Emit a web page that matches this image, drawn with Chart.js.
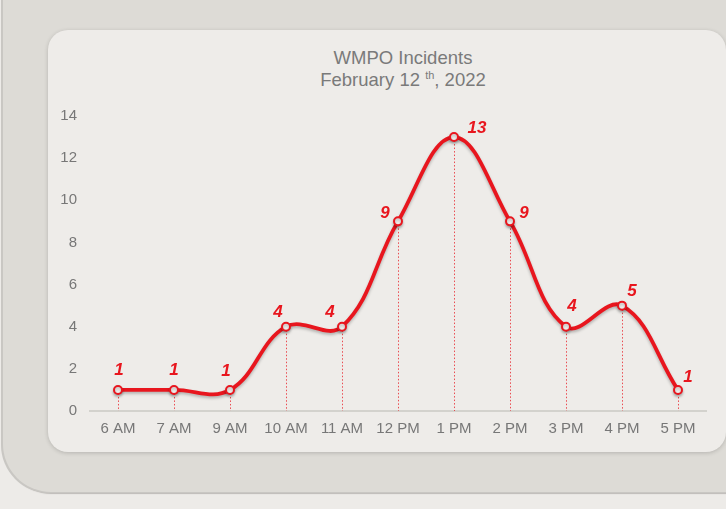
<!DOCTYPE html>
<html>
<head>
<meta charset="utf-8">
<script src="https://cdn.jsdelivr.net/npm/chart.js@4.4.0/dist/chart.umd.min.js"></script>
<style>
    html, body { margin: 0; padding: 0; width: 726px; height: 509px; overflow: hidden; background: #edebe8; font-family: "Liberation Sans", Arial, sans-serif; }
    .panel { position: absolute; left: 3px; top: -60px; width: 800px; height: 552px; background: #dddbd6; border-radius: 0 0 0 48px; box-shadow: -2px 1px 0 #c9c7c3, 0 2px 1px #bdbbb7; }
    .card { position: absolute; left: 48px; top: 30px; width: 678px; height: 422px; background: #eeece9; border-radius: 20px; box-shadow: 0 1px 4px rgba(0,0,0,0.18); }
    .title { position: absolute; left: 48px; top: 47px; width: 710px; text-align: center; color: #7a7a7a; font-size: 18.5px; line-height: 22px; }
    .title sup { font-size: 11px; vertical-align: 7px; line-height: 0; }
    canvas { position: absolute; left: 0; top: 0; }
</style>
</head>
<body>
<div class="panel"></div>
<div class="card"></div>
<div class="title">WMPO Incidents<br>February 12 <sup>th</sup>, 2022</div>
<canvas id="incidentsChart" width="726" height="509"></canvas>
<script>
// Données
const heures = ['6 AM', '7 AM', '9 AM', '10 AM', '11 AM', '12 PM', '1 PM', '2 PM', '3 PM', '4 PM', '5 PM'];
const incidents = [1, 1, 1, 4, 4, 9, 13, 9, 4, 5, 1];
const yTicks = [0, 2, 4, 6, 8, 10, 12, 14];

// Décalage des étiquettes (style)
const labelOffsets = [[1, -20], [0, -20], [-4, -19], [-8, -14], [-12, -14], [-13, -8], [23, -9], [14, -8], [6, -20], [10, -14], [10, -13]];

const rouge = '#e8161e';

// Lignes pointillées verticales + étiquettes
const dropLinesPlugin = {
    id: 'dropLines',
    beforeDatasetsDraw(chart) {
        const ctx = chart.ctx;
        const meta = chart.getDatasetMeta(0);
        const base = chart.scales.y.getPixelForValue(0);
        ctx.save();
        ctx.strokeStyle = 'rgba(232, 22, 30, 0.75)';
        ctx.lineWidth = 1;
        ctx.setLineDash([1.5, 2]);
        meta.data.forEach(pt => {
            ctx.beginPath();
            ctx.moveTo(Math.round(pt.x) + 0.5, pt.y);
            ctx.lineTo(Math.round(pt.x) + 0.5, base);
            ctx.stroke();
        });
        ctx.restore();
    },
    beforeDatasetDraw(chart) {
        const ctx = chart.ctx;
        ctx.save();
        ctx.shadowColor = 'rgba(0,0,0,0.25)';
        ctx.shadowBlur = 3;
        ctx.shadowOffsetY = 2;
    },
    afterDatasetDraw(chart) {
        chart.ctx.restore();
    },
    afterDatasetsDraw(chart) {
        const ctx = chart.ctx;
        const meta = chart.getDatasetMeta(0);
        ctx.save();
        ctx.fillStyle = rouge;
        ctx.font = 'italic bold 17px "Liberation Sans", Arial, sans-serif';
        ctx.textAlign = 'center';
        ctx.textBaseline = 'middle';
        meta.data.forEach((pt, i) => {
            const off = labelOffsets[i];
            ctx.fillText(String(incidents[i]), pt.x + off[0], pt.y + off[1]);
        });
        ctx.restore();
    }
};

const chart = new Chart(document.getElementById('incidentsChart').getContext('2d'), {
    type: 'line',
    data: {
        labels: heures,
        datasets: [{
            data: incidents,
            borderColor: rouge,
            borderWidth: 3.8,
            tension: 0.4,
            pointRadius: 4,
            pointBorderWidth: 2,
            pointBackgroundColor: '#f4f2f0',
            pointBorderColor: rouge,
            fill: false
        }]
    },
    options: {
        responsive: false,
        animation: false,
        layout: { padding: { top: 116, right: 20, bottom: 58, left: 0 } },
        plugins: { legend: { display: false }, tooltip: { enabled: false } },
        scales: {
            x: {
                offset: true,
                grid: { display: false, drawTicks: false },
                border: { display: true, color: '#d3d2cd', width: 2 },
                ticks: { color: '#777777', font: { size: 15, family: '"Liberation Sans", Arial, sans-serif' }, padding: 9 },
                afterFit(scale) { scale.height = 40; }
            },
            y: {
                min: 0,
                max: 14,
                afterBuildTicks(scale) { scale.ticks = yTicks.map(v => ({ value: v })); },
                grid: { display: false, drawTicks: false },
                border: { display: false },
                ticks: { color: '#777777', font: { size: 15, family: '"Liberation Sans", Arial, sans-serif' }, padding: 13 },
                afterFit(scale) { scale.width = 90; }
            }
        }
    },
    plugins: [dropLinesPlugin]
});
</script>
</body>
</html>
